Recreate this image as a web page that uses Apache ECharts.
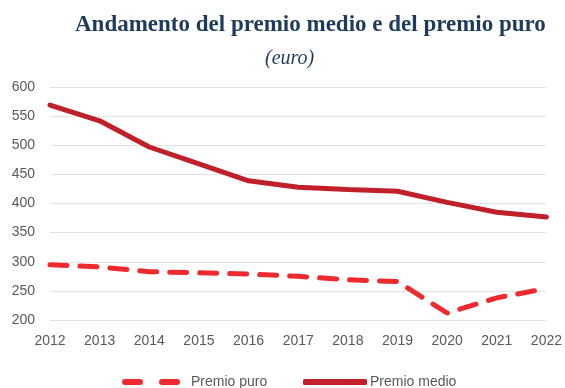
<!DOCTYPE html>
<html>
<head>
<meta charset="utf-8">
<script src="https://cdn.jsdelivr.net/npm/echarts@6/dist/echarts.min.js"></script>
<style>
  html, body { margin: 0; padding: 0; background: #fff; }
  #chart { width: 565px; height: 388px; }
</style>
</head>
<body>
<div id="chart"></div>
<script>
// Anni di riferimento
const years = ['2012', '2013', '2014', '2015', '2016', '2017', '2018', '2019', '2020', '2021', '2022'];
// Premio medio (euro)
const premioMedio = [569, 542, 497, 468, 439, 428, 424, 421, 402, 385, 377];
// Premio puro (euro)
const premioPuro = [295, 291, 283, 281, 279, 275, 269, 266, 212, 238, 254];

const labelFont = "'Liberation Sans', Arial, sans-serif";
const serifFont = "'Liberation Serif', 'DejaVu Serif', serif";
const puroColor = '#ee2a2f';
const medioColor = '#c0202a';

const chart = echarts.init(document.getElementById('chart'));
chart.setOption({
  animation: false,
  backgroundColor: '#ffffff',
  title: [
    {
      text: 'Andamento del premio medio e del premio puro',
      left: 70,
      top: 9,
      textStyle: { fontFamily: serifFont, fontWeight: 'bold', fontSize: 23, color: '#1f3b5c' }
    },
    {
      text: '(euro)',
      left: 260,
      top: 44,
      textStyle: { fontFamily: serifFont, fontStyle: 'italic', fontWeight: 'normal', fontSize: 20, color: '#1f3b5c' }
    }
  ],
  grid: { left: 50, right: 18, top: 87, bottom: 68 },
  xAxis: {
    type: 'category',
    data: years,
    boundaryGap: false,
    axisLine: { show: false },
    axisTick: { show: false },
    axisLabel: { color: '#595959', fontSize: 14, fontFamily: labelFont, margin: 14 }
  },
  yAxis: {
    type: 'value',
    min: 200,
    max: 600,
    interval: 50,
    axisLine: { show: false },
    axisTick: { show: false },
    axisLabel: { color: '#595959', fontSize: 14, fontFamily: labelFont, margin: 15 },
    splitLine: { lineStyle: { color: '#e3e3e3', width: 1 } }
  },
  legend: [
    {
      left: 122,
      top: 375,
      padding: 0,
      itemWidth: 58,
      itemHeight: 6,
      textStyle: { color: '#595959', fontSize: 14, fontFamily: labelFont, padding: [0, 0, 0, 6] },
      data: [{
        name: 'Premio puro',
        icon: 'path://M3,0H18A3,3 0 0 1 18,6H3A3,3 0 0 1 3,0Z M40,0H55A3,3 0 0 1 55,6H40A3,3 0 0 1 40,0Z',
        itemStyle: { color: puroColor }
      }]
    },
    {
      left: 303,
      top: 375,
      padding: 0,
      itemWidth: 64,
      itemHeight: 6,
      textStyle: { color: '#595959', fontSize: 14, fontFamily: labelFont, padding: [0, 0, 0, -2] },
      data: [{
        name: 'Premio medio',
        icon: 'roundRect',
        itemStyle: { color: medioColor }
      }]
    }
  ],
  series: [
    {
      name: 'Premio puro',
      type: 'line',
      data: premioPuro,
      symbol: 'none',
      itemStyle: { color: puroColor },
      lineStyle: { color: puroColor, width: 5, type: [17, 13], cap: 'round' }
    },
    {
      name: 'Premio medio',
      type: 'line',
      data: premioMedio,
      symbol: 'none',
      itemStyle: { color: medioColor },
      lineStyle: { color: medioColor, width: 5, cap: 'round' }
    }
  ]
});
</script>
</body>
</html>
